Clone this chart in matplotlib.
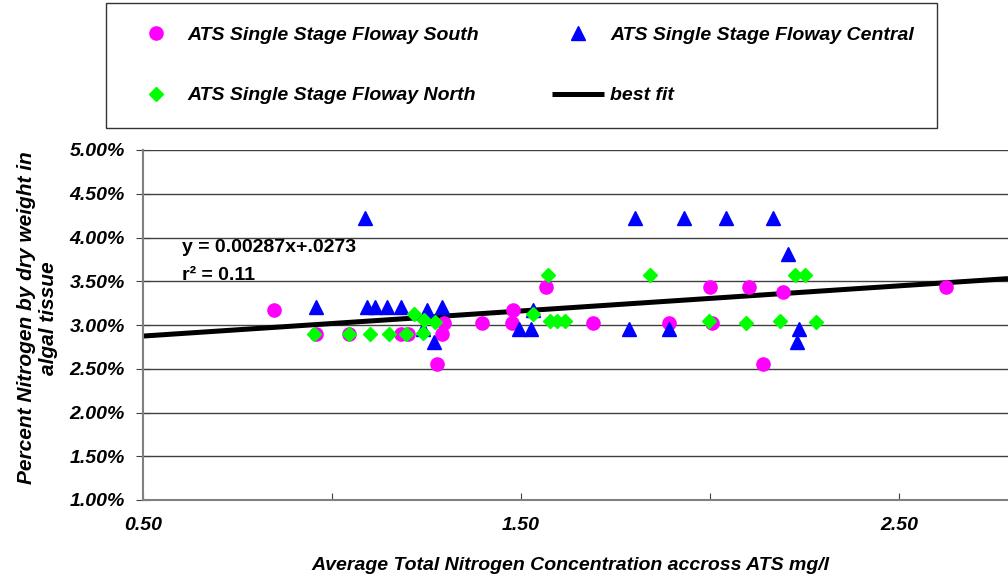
import numpy as np
import matplotlib
matplotlib.use("Agg")
import matplotlib.pyplot as plt
from matplotlib.ticker import PercentFormatter, FixedLocator, FixedFormatter

plt.rcParams['font.family'] = ['Liberation Sans', 'DejaVu Sans']

south_x = [0.847, 0.958, 1.046, 1.182, 1.202, 1.295, 1.292, 1.277, 1.396, 1.480,
           1.475, 1.566, 1.690, 1.890, 2.000, 2.006, 2.104, 2.139, 2.194, 2.624]
south_y = [0.0317, 0.0290, 0.0290, 0.0290, 0.0290, 0.0302, 0.0290, 0.0255, 0.0302, 0.0317,
           0.0302, 0.0344, 0.0302, 0.0302, 0.0344, 0.0302, 0.0344, 0.0255, 0.0338, 0.0344]

central_x = [0.957, 1.087, 1.093, 1.114, 1.146, 1.182, 1.240, 1.250, 1.271, 1.292, 1.495,
             1.526, 1.531, 1.786, 1.802, 1.890, 1.932, 2.041, 2.166, 2.205, 2.235, 2.231]
central_y = [0.0321, 0.0422, 0.0321, 0.0321, 0.0321, 0.0321, 0.0296, 0.0317, 0.0281, 0.0321, 0.0296,
             0.0296, 0.0317, 0.0296, 0.0422, 0.0296, 0.0422, 0.0422, 0.0422, 0.0381, 0.0296, 0.0281]

north_x = [0.952, 1.046, 1.100, 1.151, 1.196, 1.217, 1.242, 1.240, 1.272, 1.531, 1.571,
           1.577, 1.596, 1.616, 1.841, 1.996, 2.095, 2.185, 2.225, 2.251, 2.280]
north_y = [0.0290, 0.0290, 0.0290, 0.0290, 0.0290, 0.0313, 0.0306, 0.0291, 0.0304, 0.0313, 0.0357,
           0.0305, 0.0305, 0.0305, 0.0357, 0.0305, 0.0302, 0.0305, 0.0357, 0.0357, 0.0304]

# best fit y = 0.00287x + .0273
fit_slope = 0.00287
fit_intercept = 0.0273

x_ticks = [0.5, 1.0, 1.5, 2.0, 2.5]
x_tick_labels = ['0.50', '', '1.50', '', '2.50']
y_ticks = [0.01, 0.015, 0.02, 0.025, 0.03, 0.035, 0.04, 0.045, 0.05]

XMIN, XMAX = 0.5, 2.788
bold_it = dict(fontweight='bold', fontstyle='italic')

fig = plt.figure(figsize=(10.08, 5.79), dpi=100)
ax = fig.add_axes([143 / 1008, 1 - 500 / 579, 865 / 1008, 350 / 579])

fx = np.array([XMIN, XMAX])
fit_line, = ax.plot(fx, fit_slope * fx + fit_intercept, color='black', lw=3.6,
                    solid_capstyle='butt', zorder=2)
s_south, = ax.plot(south_x, south_y, 'o', ls='none', color='#ff00ff', ms=9.5, zorder=3)
s_central, = ax.plot(central_x, central_y, '^', ls='none', color='#0000ff', ms=10, zorder=4)
s_north, = ax.plot(north_x, north_y, 'D', ls='none', color='#00ff00', ms=7.5, zorder=5)

ax.set_xlim(XMIN, XMAX)
ax.set_ylim(0.01, 0.05)
ax.xaxis.set_major_locator(FixedLocator(x_ticks))
ax.xaxis.set_major_formatter(FixedFormatter(x_tick_labels))
ax.yaxis.set_major_locator(FixedLocator(y_ticks))
ax.yaxis.set_major_formatter(PercentFormatter(xmax=1, decimals=2))
ax.yaxis.grid(True, color='#404040', lw=1)
ax.set_axisbelow(True)

for side in ['top', 'right']:
    ax.spines[side].set_visible(False)
for side in ['left', 'bottom']:
    ax.spines[side].set_color('#808080')
    ax.spines[side].set_linewidth(1.5)
ax.tick_params(axis='x', direction='in', length=5, color='#404040', pad=12)
ax.tick_params(axis='y', direction='inout', length=10, color='#404040', pad=8)
for lab in ax.get_xticklabels() + ax.get_yticklabels():
    lab.set_fontsize(14)
    lab.set_fontweight('bold')
    lab.set_fontstyle('italic')

fig.text(182 / 1008, 1 - 247 / 579, 'y = 0.00287x+.0273', fontsize=14, fontweight='bold',
         ha='left', va='center')
fig.text(182 / 1008, 1 - 275 / 579, 'r² = 0.11', fontsize=14, fontweight='bold',
         ha='left', va='center')

fig.text(38 / 1008, 1 - 318 / 579, 'Percent Nitrogen by dry weight in\nalgal tissue',
         rotation=90, ha='center', va='center', multialignment='center', fontsize=15,
         **bold_it)
fig.text(570 / 1008, 1 - 565 / 579, 'Average Total Nitrogen Concentration accross ATS mg/l',
         ha='center', va='center', fontsize=14, **bold_it)

handles = [s_south, s_north, s_central, fit_line]
labels = ['ATS Single Stage Floway South', 'ATS Single Stage Floway North',
          'ATS Single Stage Floway Central', 'best fit']
leg = fig.legend(handles, labels, loc='upper left',
                 bbox_to_anchor=(106 / 1008, 1 - 125 / 579, 831 / 1008, 122 / 579),
                 mode='expand', ncol=2, frameon=True, fancybox=False, shadow=False,
                 edgecolor='black', borderpad=1.2, borderaxespad=0, labelspacing=2.2,
                 handlelength=2.7, handletextpad=0.3, numpoints=1,
                 prop=dict(family='Liberation Sans', size=14, weight='bold', style='italic'))
leg.get_frame().set_linewidth(1.0)

fig.savefig('out.png', dpi=100)
